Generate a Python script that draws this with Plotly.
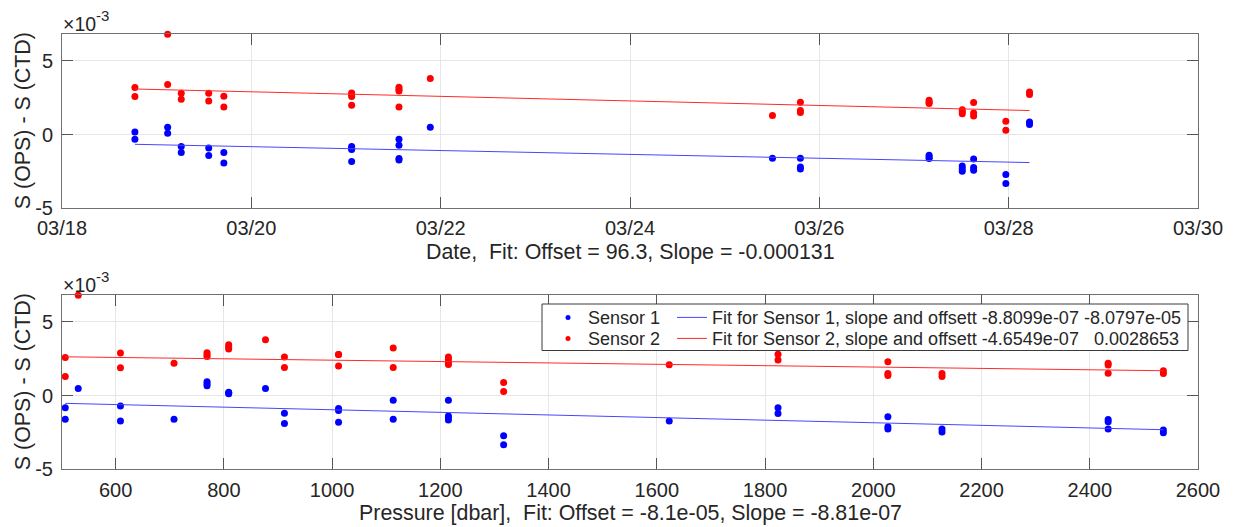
import plotly.graph_objects as go
import pandas as pd

# ---------------- data (salinity differences in units of 1e-3) ----------------
SCALE = 1e-3

# Top panel: difference vs. time
top_times = [
    "2019-03-18 18:29", "2019-03-18 18:29",
    "2019-03-19 02:47", "2019-03-19 02:47",
    "2019-03-19 06:14", "2019-03-19 06:14",
    "2019-03-19 13:12", "2019-03-19 13:12",
    "2019-03-19 17:02", "2019-03-19 17:02",
    "2019-03-21 01:26", "2019-03-21 01:26", "2019-03-21 01:26", "2019-03-21 01:26",
    "2019-03-21 13:26", "2019-03-21 13:26", "2019-03-21 13:26", "2019-03-21 13:26",
    "2019-03-21 21:22",
    "2019-03-25 12:07",
    "2019-03-25 19:12", "2019-03-25 19:12", "2019-03-25 19:12",
    "2019-03-27 03:50", "2019-03-27 03:50", "2019-03-27 03:50",
    "2019-03-27 12:14", "2019-03-27 12:14", "2019-03-27 12:14",
    "2019-03-27 15:07", "2019-03-27 15:07", "2019-03-27 15:07",
    "2019-03-27 23:17", "2019-03-27 23:17",
    "2019-03-28 05:17", "2019-03-28 05:17",
]
top_sensor1 = [
    0.18, -0.32,
    0.49, 0.09,
    -0.81, -1.22,
    -0.91, -1.42,
    -1.22, -1.92,
    -0.81, -0.95, -1.02, -1.83,
    -0.32, -0.73, -1.63, -1.72,
    0.49,
    -1.61,
    -1.61, -2.20, -2.33,
    -1.40, -1.52, -1.63,
    -2.13, -2.31, -2.49,
    -1.65, -2.24, -2.42,
    -2.71, -3.32,
    0.85, 0.68,
]
top_sensor2 = [
    3.19, 2.58,
    6.80, 3.39,
    2.80, 2.39,
    2.80, 2.28,
    2.60, 1.87,
    2.82, 2.71, 2.58, 1.99,
    3.21, 3.05, 2.96, 1.87,
    3.80,
    1.29,
    2.19, 1.63, 1.49,
    2.33, 2.20, 2.10,
    1.69, 1.55, 1.42,
    2.17, 1.47, 1.26,
    0.90, 0.29,
    2.89, 2.71,
]
# time fits: value at 03/18 00:00 and slope per day (units 1e-3)
top_fit_ref = "2019-03-18 00:00"
top_fit_s1 = {"offset": -0.559, "slope": -0.131}
top_fit_s2 = {"offset": 3.209, "slope": -0.1545}

# Bottom panel: difference vs. pressure
bot_pressure = [
    507, 507,
    531,
    609, 609,
    708,
    769, 769, 769,
    809, 809, 809,
    877,
    912, 912,
    1012, 1012, 1012,
    1113, 1113,
    1215, 1215, 1215, 1215,
    1317, 1317,
    1623,
    1824, 1824,
    2027, 2027, 2027,
    2127, 2127,
    2434, 2434, 2434,
    2536, 2536,
]
bot_sensor1 = [
    -0.82, -1.61,
    0.48,
    -0.70, -1.72,
    -1.61,
    0.93, 0.80, 0.66,
    0.23, 0.17, 0.12,
    0.48,
    -1.20, -1.90,
    -0.88, -1.02, -1.81,
    -0.31, -1.61,
    -0.31, -1.38, -1.52, -1.65,
    -2.72, -3.33,
    -1.72,
    -0.82, -1.22,
    -1.43, -2.11, -2.26,
    -2.26, -2.47,
    -1.63, -1.77, -2.26,
    -2.33, -2.52,
]
bot_sensor2 = [
    2.59, 1.29,
    6.80,
    2.88, 1.88,
    2.20,
    2.90, 2.77, 2.65,
    3.45, 3.29, 3.16,
    3.79,
    2.61, 1.90,
    2.79, 2.79, 2.00,
    3.22, 1.90,
    2.62, 2.45, 2.25, 2.10,
    0.88, 0.27,
    2.09,
    2.81, 2.41,
    2.29, 1.50, 1.36,
    1.50, 1.29,
    2.20, 2.07, 1.52,
    1.68, 1.50,
]
# pressure fits (real units): slope per dbar, offset
bot_fit_s1 = {"slope": -8.8099e-07, "offset": -8.0797e-05}
bot_fit_s2 = {"slope": -4.6549e-07, "offset": 0.0028653}

top_xlabel = "Date,\u00a0 Fit: Offset = 96.3, Slope = -0.000131"
bot_xlabel = "Pressure [dbar],\u00a0 Fit: Offset = -8.1e-05, Slope = -8.81e-07"
ylabel = "S (OPS) - S (CTD)"
date_range = ["2019-03-18", "2019-03-30"]
p_range = [501, 2600]
y_range = [-5, 6.82]
y_ticks = [-5, 0, 5]

# ---------------- figure ----------------
PAGE_PAD = 8                      # default body margin of the html page
W, H = 1235 - PAGE_PAD, 527 - PAGE_PAD
FONT = "Liberation Sans, Arial, Helvetica, sans-serif"
TXT = "#262626"
BLUE = "#0000ff"
RED = "#ff0000"
BLUE_LINE = "#4646ff"
RED_LINE = "#ff2a2a"


def px_x(x):
    """page pixel x -> paper fraction"""
    return (x - PAGE_PAD) / W


def px_y(y):
    """page pixel y (from top) -> paper fraction"""
    return 1 - (y - PAGE_PAD) / H


fig = go.Figure()

# top panel
t = pd.to_datetime(pd.Series(top_times))
t_ref = pd.Timestamp(top_fit_ref)
t_ends = pd.Series([t.min(), t.max()])
days = (t_ends - t_ref).dt.total_seconds() / 86400.0

fig.add_trace(go.Scatter(x=t, y=top_sensor1, mode="markers", xaxis="x", yaxis="y",
                         marker=dict(color=BLUE, size=7), cliponaxis=False, showlegend=False))
fig.add_trace(go.Scatter(x=t, y=top_sensor2, mode="markers", xaxis="x", yaxis="y",
                         marker=dict(color=RED, size=7), cliponaxis=False, showlegend=False))
fig.add_trace(go.Scatter(x=t_ends, y=top_fit_s1["offset"] + top_fit_s1["slope"] * days,
                         mode="lines", xaxis="x", yaxis="y",
                         line=dict(color=BLUE_LINE, width=1), showlegend=False))
fig.add_trace(go.Scatter(x=t_ends, y=top_fit_s2["offset"] + top_fit_s2["slope"] * days,
                         mode="lines", xaxis="x", yaxis="y",
                         line=dict(color=RED_LINE, width=1), showlegend=False))

# bottom panel
p_ends = [min(bot_pressure), max(bot_pressure)]
fit1_y = [(bot_fit_s1["slope"] * p + bot_fit_s1["offset"]) / SCALE for p in p_ends]
fit2_y = [(bot_fit_s2["slope"] * p + bot_fit_s2["offset"]) / SCALE for p in p_ends]

fig.add_trace(go.Scatter(x=bot_pressure, y=bot_sensor1, mode="markers", xaxis="x2", yaxis="y2",
                         marker=dict(color=BLUE, size=7), cliponaxis=False, showlegend=False))
fig.add_trace(go.Scatter(x=bot_pressure, y=bot_sensor2, mode="markers", xaxis="x2", yaxis="y2",
                         marker=dict(color=RED, size=7), cliponaxis=False, showlegend=False))
fig.add_trace(go.Scatter(x=p_ends, y=fit1_y, mode="lines", xaxis="x2", yaxis="y2",
                         line=dict(color=BLUE_LINE, width=1), showlegend=False))
fig.add_trace(go.Scatter(x=p_ends, y=fit2_y, mode="lines", xaxis="x2", yaxis="y2",
                         line=dict(color=RED_LINE, width=1), showlegend=False))

# legend entries (one small legend per cell, to get MATLAB's 2-column layout)
fit1_name = "Fit for Sensor 1, slope and offsett %.4e %.4e" % (bot_fit_s1["slope"], bot_fit_s1["offset"])
fit2_name = ("Fit for Sensor 2, slope and offsett %.4e\u00a0\u00a0 %.7f"
             % (bot_fit_s2["slope"], bot_fit_s2["offset"]))
legend_entries = [
    ("legend", "Sensor 1", "markers", BLUE),
    ("legend2", fit1_name, "lines", BLUE_LINE),
    ("legend3", "Sensor 2", "markers", RED),
    ("legend4", fit2_name, "lines", RED_LINE),
]
for lg, name, mode, col in legend_entries:
    fig.add_trace(go.Scatter(x=[None], y=[None], mode=mode, xaxis="x2", yaxis="y2",
                             marker=dict(color=col, size=5), line=dict(color=col, width=1),
                             name=name, legend=lg, showlegend=True))

axis_common = dict(
    automargin=False,
    showgrid=True, gridcolor="#e6e6e6", gridwidth=1,
    showline=True, linecolor="#707070", linewidth=1, mirror="ticks",
    ticks="inside", ticklen=11, tickwidth=1, tickcolor="#555555",
    zeroline=False, tickfont=dict(family=FONT, size=20, color=TXT),
)

LEG_FONT = dict(family=FONT, size=18, color=TXT)
ROW1, ROW2 = 317.5, 338.5
ROW_OFF = 18.3


def legend_box(xpage, ypage):
    return dict(x=px_x(xpage), y=px_y(ypage - ROW_OFF), xanchor="left", yanchor="top",
                bgcolor="rgba(0,0,0,0)", borderwidth=0, font=LEG_FONT)


dom_x = [px_x(62), px_x(1198)]
fig.update_layout(
    template="none",
    width=W, height=H,
    margin=dict(l=0, r=0, t=0, b=0, autoexpand=False),
    paper_bgcolor="white", plot_bgcolor="white",
    font=dict(family=FONT, color=TXT),
    xaxis=dict(domain=dom_x, anchor="y", type="date", range=date_range,
               tick0=date_range[0], dtick=2 * 86400000, tickformat="%m/%d",
               ticklabelstandoff=2, **axis_common),
    yaxis=dict(domain=[px_y(208.3), px_y(34)], anchor="x", range=y_range,
               tickmode="array", tickvals=y_ticks, ticktext=[str(v) for v in y_ticks],
               ticklabelstandoff=4, **axis_common),
    xaxis2=dict(domain=dom_x, anchor="y2", range=p_range, tick0=0, dtick=200,
                tickformat="d", ticklabelstandoff=3, **axis_common),
    yaxis2=dict(domain=[px_y(469.3), px_y(295)], anchor="x2", range=y_range,
                tickmode="array", tickvals=y_ticks, ticktext=[str(v) for v in y_ticks],
                ticklabelstandoff=4, **axis_common),
    legend=legend_box(548, ROW1),
    legend2=legend_box(672, ROW1),
    legend3=legend_box(548, ROW2),
    legend4=legend_box(672, ROW2),
    shapes=[dict(type="rect", xref="paper", yref="paper",
                 x0=px_x(542), x1=px_x(1188), y0=px_y(350.5), y1=px_y(304),
                 fillcolor="white", line=dict(color="#3a3a3a", width=1), layer="above")],
)

annotations = []
for yc, ytop in [((34 + 208.3) / 2, 34), ((295 + 469.3) / 2, 295)]:
    annotations.append(dict(text=ylabel, x=px_x(23), y=px_y(yc), xref="paper", yref="paper",
                            textangle=-90, showarrow=False, xanchor="center", yanchor="middle",
                            font=dict(family=FONT, size=21.4, color=TXT)))
    # exponent label "x10^-3" above the top-left corner
    annotations.append(dict(text="\u00d710", x=px_x(61.5), y=px_y(ytop - 10.5), xref="paper",
                            yref="paper", showarrow=False, xanchor="left", yanchor="middle",
                            borderpad=0, font=dict(family=FONT, size=19.5, color=TXT)))
    annotations.append(dict(text="-3", x=px_x(94.5), y=px_y(ytop - 18.5), xref="paper",
                            yref="paper", showarrow=False, xanchor="left", yanchor="middle",
                            borderpad=0, font=dict(family=FONT, size=15, color=TXT)))
annotations.append(dict(text=top_xlabel, x=px_x(630), y=px_y(252.5), xref="paper", yref="paper",
                        showarrow=False, xanchor="center", yanchor="middle",
                        font=dict(family=FONT, size=21.4, color=TXT)))
annotations.append(dict(text=bot_xlabel, x=px_x(630), y=px_y(513), xref="paper", yref="paper",
                        showarrow=False, xanchor="center", yanchor="middle",
                        font=dict(family=FONT, size=21.4, color=TXT)))
fig.update_layout(annotations=annotations)

fig.write_html("out.html")
